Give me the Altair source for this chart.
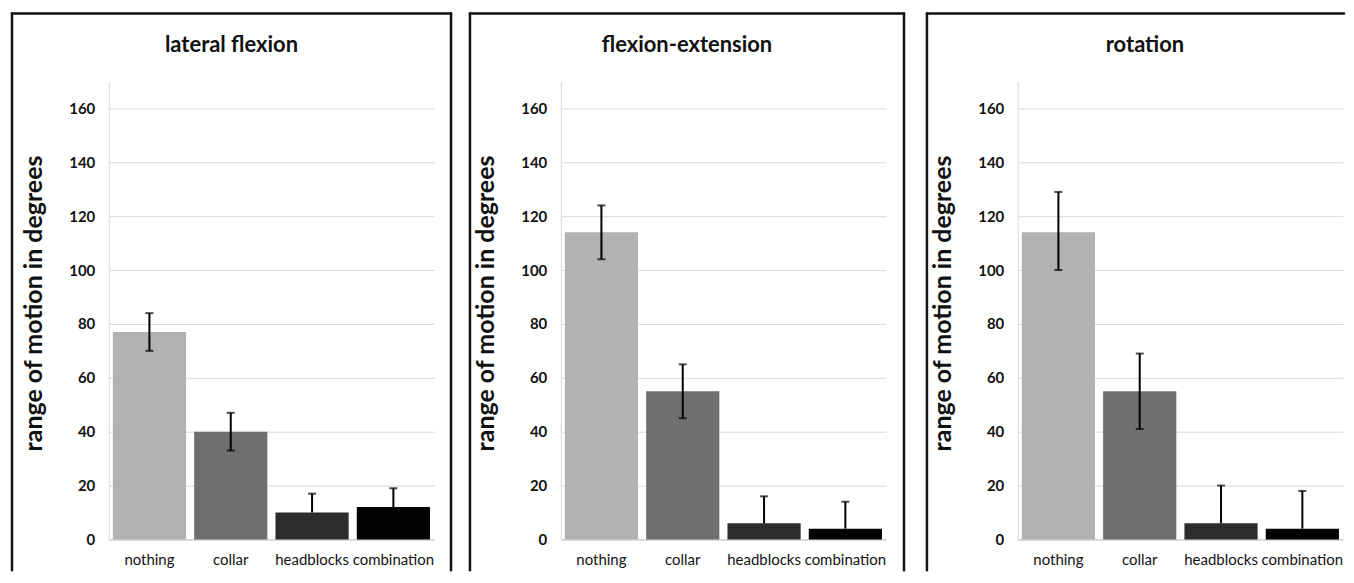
import altair as alt
import pandas as pd

# ---- data ----
categories = ["nothing", "collar", "headblocks", "combination"]
panel_titles = ["lateral flexion", "flexion-extension", "rotation"]

lateral_values = [77, 40, 10, 12]
lateral_low = [70, 33, 10, 12]
lateral_high = [84, 47, 17, 19]

flexext_values = [114, 55, 6, 4]
flexext_low = [104, 45, 6, 4]
flexext_high = [124, 65, 16, 14]

rotation_values = [114, 55, 6, 4]
rotation_low = [100, 41, 6, 4]
rotation_high = [129, 69, 20, 18]

y_ticks = [0, 20, 40, 60, 80, 100, 120, 140, 160]

bar_colors = ["#b2b2b2", "#6f6f6f", "#2c2c2c", "#030303"]

W, H = 326, 459
FONT = "Lato"
TOP = -68


def panel(title, values, lows, highs, left_off, right_off, title_x, draw_right):
    df = pd.DataFrame({"device": categories, "value": values, "lo": lows, "hi": highs})

    xenc = alt.X(
        "device:N",
        sort=categories,
        scale=alt.Scale(paddingInner=0.1, paddingOuter=0.05),
        axis=alt.Axis(
            title=None, labelAngle=0, ticks=False, domainColor="#c8c8c8",
            labelFont=FONT, labelFontSize=15, labelColor="#111111",
            labelPadding=13, grid=False,
        ),
    )

    def yenc(field):
        return alt.Y(
            field,
            scale=alt.Scale(domain=[0, 170], nice=False),
            axis=alt.Axis(
                values=y_ticks, title="range of motion in degrees",
                titleFont=FONT, titleFontSize=25, titleFontWeight="bold",
                titleColor="#111111", titleX=-62, titleY=222,
                labelFont=FONT, labelFontSize=15, labelFontWeight="bold",
                labelColor="#111111", labelPadding=14, ticks=False,
                domainColor="#d9d9d9", gridColor="#d9d9d9", gridWidth=1,
            ),
        )

    bars = alt.Chart(df).mark_bar().encode(
        x=xenc,
        y=yenc("value:Q"),
        color=alt.Color("device:N", scale=alt.Scale(domain=categories, range=bar_colors), legend=None),
    )
    whisker = alt.Chart(df).mark_rule(color="black", strokeWidth=2).encode(
        x=xenc, y=yenc("lo:Q"), y2="hi:Q"
    )
    cap_hi = alt.Chart(df).mark_tick(color="black", thickness=2, size=8).encode(
        x=xenc, y=yenc("hi:Q")
    )
    cap_lo = alt.Chart(df).transform_filter("datum.lo < datum.value").mark_tick(
        color="black", thickness=2, size=8
    ).encode(x=xenc, y=yenc("lo:Q"))

    one = pd.DataFrame({"k": [0]})
    border_style = dict(color="#111111", strokeWidth=2.5, strokeCap="round")
    top = alt.Chart(one).mark_rule(**border_style).encode(
        x=alt.value(left_off), x2=alt.value(right_off), y=alt.value(TOP)
    )
    left = alt.Chart(one).mark_rule(**border_style).encode(
        x=alt.value(left_off), y=alt.value(TOP), y2=alt.value(490)
    )
    ttl = alt.Chart(one).mark_text(
        text=title, font=FONT, fontSize=22, fontWeight="bold", color="#111111",
        align="center", baseline="middle",
    ).encode(x=alt.value(title_x), y=alt.value(-37))

    layers = [bars, whisker, cap_hi, cap_lo, top, left, ttl]
    if draw_right:
        right = alt.Chart(one).mark_rule(**border_style).encode(
            x=alt.value(right_off), y=alt.value(TOP), y2=alt.value(490)
        )
        layers.append(right)
    return alt.layer(*layers).properties(width=W, height=H)


p1 = panel(panel_titles[0], lateral_values, lateral_low, lateral_high, -97, 343, 123, True)
p2 = panel(panel_titles[1], flexext_values, flexext_low, flexext_high, -91, 344, 126.5, True)
p3 = panel(panel_titles[2], rotation_values, rotation_low, rotation_high, -91, 327, 127.5, False)

chart = alt.hconcat(
    alt.hconcat(p1, p2, spacing=15), p3, spacing=19
).properties(
    padding={"left": 2, "top": 3, "right": 0, "bottom": 0}
).configure_view(stroke=None)

chart.save("out.html", embed_options={"renderer": "svg", "actions": False})
